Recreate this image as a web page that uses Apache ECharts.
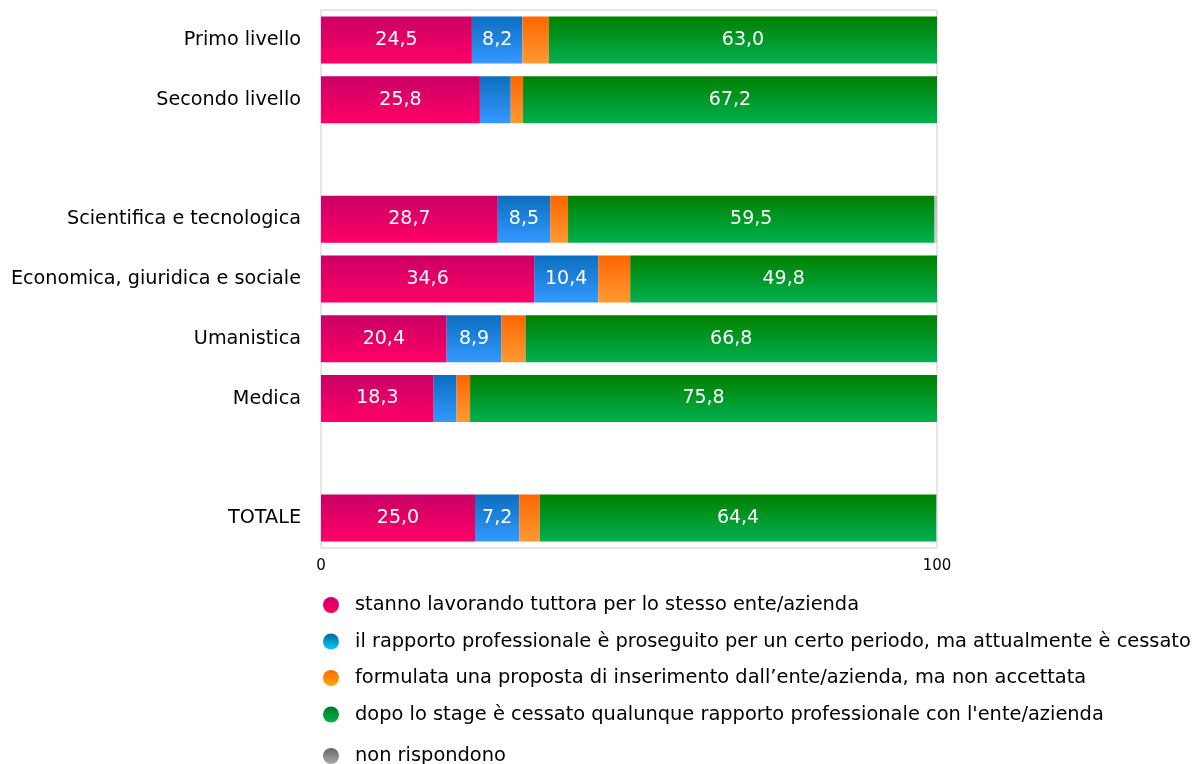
<!DOCTYPE html>
<html>
<head>
<meta charset="UTF-8">
<script src="https://cdn.jsdelivr.net/npm/echarts@6/dist/echarts.min.js"></script>
<title>Stage</title>
<style>
body { margin: 0; background: #fff; }
#main { width: 1193px; height: 764px; }
</style>
</head>
<body>
<div id="main"></div>
<script>
// categorie (le stringhe vuote fanno da spazio tra i gruppi)
var categories = ['Primo livello', 'Secondo livello', '', 'Scientifica e tecnologica',
	'Economica, giuridica e sociale', 'Umanistica', 'Medica', ' ', 'TOTALE'];

var seriesNames = [
	'stanno lavorando tuttora per lo stesso ente/azienda',
	'il rapporto professionale è proseguito per un certo periodo, ma attualmente è cessato',
	'formulata una proposta di inserimento dall\u2019ente/azienda, ma non accettata',
	'dopo lo stage è cessato qualunque rapporto professionale con l\'ente/azienda',
	'non rispondono'
];

var lavorando   = [24.5, 25.8, null, 28.7, 34.6, 20.4, 18.3, null, 25.0];
var proseguito  = [8.2, 5.0, null, 8.5, 10.4, 8.9, 3.7, null, 7.2];
var proposta    = [4.3, 2.0, null, 2.9, 5.2, 3.9, 2.2, null, 3.3];
var cessato     = [63.0, 67.2, null, 59.5, 49.8, 66.8, 75.8, null, 64.4];
var nonRisp     = [0, 0, null, 0.4, 0, 0, 0, null, 0.3];

var xTicks = [0, 100];

function grad(top, bottom) {
	return new echarts.graphic.LinearGradient(0, 0, 0, 1, [
		{ offset: 0, color: top },
		{ offset: 1, color: bottom }
	]);
}

var barColors = [
	grad('#c90066', '#ff0066'),
	grad('#0c6ebf', '#3399ff'),
	grad('#ff6600', '#ff9933'),
	grad('#008000', '#00b050'),
	grad('#bbbbbb', '#cccccc')
];
var legendColors = [
	grad('#c90066', '#ff0066'),
	grad('#006699', '#00ccff'),
	grad('#ff6600', '#ffaa00'),
	grad('#007a1f', '#00b050'),
	grad('#666666', '#aaaaaa')
];

function fmt(p) {
	if (p.value == null || p.value < 7) return '';
	return p.value.toFixed(1).replace('.', ',');
}

var datasets = [lavorando, proseguito, proposta, cessato, nonRisp];
var series = datasets.map(function(d, i) {
	return {
		name: seriesNames[i],
		type: 'bar',
		stack: 'tot',
		barWidth: 47,
		data: d,
		itemStyle: { color: barColors[i] },
		label: {
			show: i !== 2 && i !== 4,
			position: 'inside',
			color: '#fff',
			fontSize: 19,
			fontFamily: 'DejaVu Sans',
			formatter: fmt
		}
	};
});

var legendItems = seriesNames.map(function(n, i) {
	return { name: n, itemStyle: { color: legendColors[i] } };
});

var legendText = { color: '#000', fontSize: 19.4, lineHeight: 20, fontFamily: 'DejaVu Sans', padding: [0, 0, 0, 4] };

var option = {
	animation: false,
	grid: {
		left: 321,
		top: 10,
		width: 616,
		height: 538,
		show: true,
		borderColor: '#cccccc',
		borderWidth: 1
	},
	xAxis: {
		type: 'value',
		min: xTicks[0],
		max: xTicks[1],
		interval: 100,
		axisLine: { show: false },
		axisTick: { show: false },
		splitLine: { show: false },
		axisLabel: { color: '#000', fontSize: 15, fontFamily: 'DejaVu Sans', margin: 11 }
	},
	yAxis: {
		type: 'category',
		inverse: true,
		data: categories,
		axisLine: { show: false },
		axisTick: { show: false },
		axisLabel: { color: '#000', fontSize: 19.2, fontFamily: 'DejaVu Sans', margin: 20 }
	},
	legend: [{
		orient: 'vertical',
		left: 318,
		top: 590,
		itemWidth: 30,
		itemHeight: 16,
		itemGap: 16.5,
		icon: 'circle',
		selectedMode: false,
		data: legendItems.slice(0, 4),
		textStyle: legendText
	}, {
		orient: 'vertical',
		left: 318,
		top: 741,
		itemWidth: 30,
		itemHeight: 16,
		icon: 'circle',
		selectedMode: false,
		data: legendItems.slice(4),
		textStyle: legendText
	}],
	series: series
};

var mychart = echarts.init(document.getElementById('main'));
mychart.setOption(option);
</script>
</body>
</html>
